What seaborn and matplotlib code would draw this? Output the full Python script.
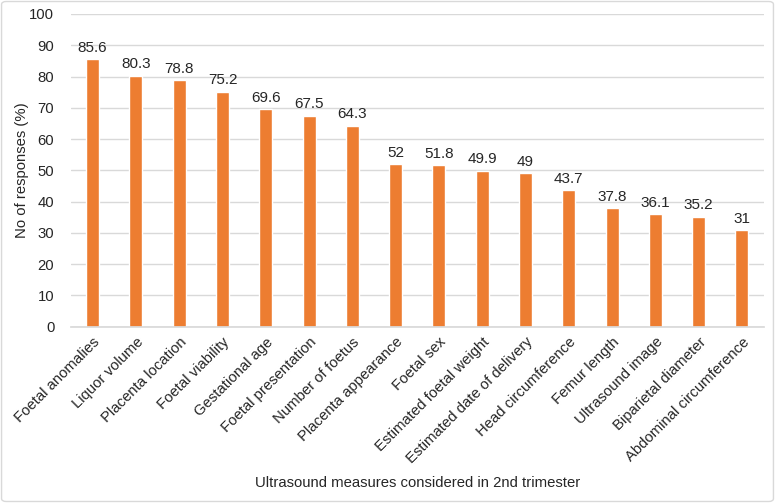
"""Ultrasound measures considered in 2nd trimester - bar chart"""

import matplotlib
matplotlib.use("Agg")
import matplotlib.pyplot as plt
import pandas as pd
import seaborn as sns
from matplotlib.patches import FancyBboxPatch

measures = [
    "Foetal anomalies",
    "Liquor volume",
    "Placenta location",
    "Foetal viability",
    "Gestational age",
    "Foetal presentation",
    "Number of foetus",
    "Placenta appearance",
    "Foetal sex",
    "Estimated foetal weight",
    "Estimated date of delivery",
    "Head circumference",
    "Femur length",
    "Ultrasound image",
    "Biparietal diameter",
    "Abdominal circumference",
]
responses = [85.6, 80.3, 78.8, 75.2, 69.6, 67.5, 64.3, 52, 51.8, 49.9, 49, 43.7, 37.8, 36.1, 35.2, 31]
value_labels = ["85.6", "80.3", "78.8", "75.2", "69.6", "67.5", "64.3", "52", "51.8",
                "49.9", "49", "43.7", "37.8", "36.1", "35.2", "31"]

df = pd.DataFrame({"measure": measures, "pct": responses})

sns.set_theme(style="white")
plt.rcParams["font.family"] = ["Liberation Sans", "DejaVu Sans"]
text_color = "#262626"

fig = plt.figure(figsize=(7.75, 5.03), dpi=100)
ax = fig.add_axes([0.0916, 0.3505, 0.8937, 0.6217])

sns.barplot(data=df, x="measure", y="pct", color="#ED7D31", saturation=1,
            width=0.3, ax=ax)

# value labels above each bar
for patch, lab in zip(ax.patches, value_labels):
    ax.annotate(lab, (patch.get_x() + patch.get_width() / 2, patch.get_height()),
                xytext=(0, 3), textcoords="offset points",
                ha="center", va="bottom", fontsize=11, color=text_color)

ax.set_ylim(0, 100)
ax.set_xlim(-0.5, len(measures) - 0.5)
ax.set_yticks(range(0, 101, 10))
ax.yaxis.grid(True, color="#d9d9d9", linewidth=1)
ax.set_axisbelow(True)
for side in ["left", "right", "top"]:
    ax.spines[side].set_visible(False)
ax.spines["bottom"].set_color("#d9d9d9")
ax.tick_params(axis="both", length=0, labelsize=10.7, colors=text_color)
ax.tick_params(axis="y", pad=12)
ax.tick_params(axis="x", pad=6)
plt.setp(ax.get_xticklabels(), rotation=45, ha="right", rotation_mode="anchor")

ax.set_xlabel("")
ax.set_ylabel("No of responses (%)", fontsize=10.7, color=text_color)
ax.yaxis.set_label_coords(-0.061, 0.5)

fig.text(0.5385, (503 - 483) / 503,
         "Ultrasound measures considered in 2nd trimester",
         ha="center", va="center", fontsize=10.7, color=text_color)

# light frame around the whole chart
fig.patches.append(FancyBboxPatch((0.002, 0.003), 0.996, 0.994,
                                  boxstyle="round,pad=0,rounding_size=0.006",
                                  transform=fig.transFigure, fill=False,
                                  edgecolor="#d9d9d9", linewidth=1))

fig.savefig("out.png", dpi=100)
